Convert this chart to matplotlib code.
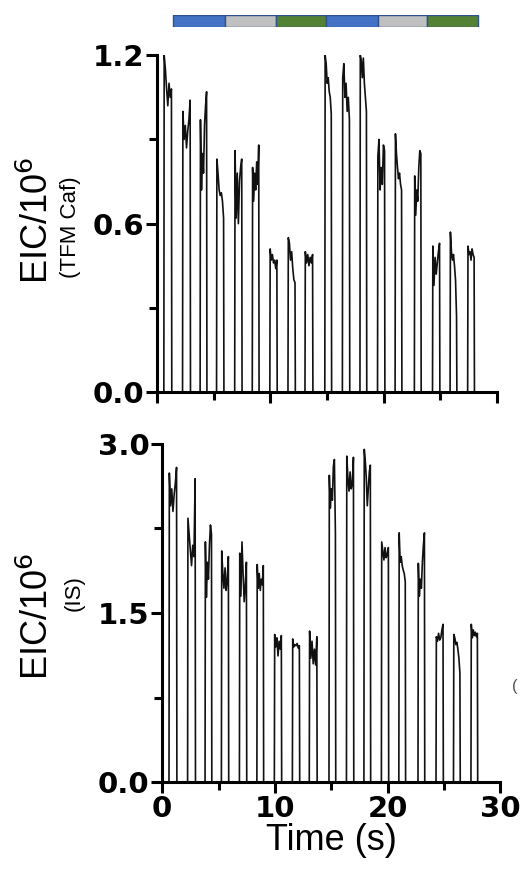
import numpy as np
import matplotlib
matplotlib.use("Agg")
import matplotlib.pyplot as plt
from matplotlib.ticker import MultipleLocator, FormatStrFormatter

plt.rcParams['font.family'] = ['Liberation Sans', 'DejaVu Sans']

# pulse timing (s), shared by both traces
peak_start = [0.60, 2.25, 3.80, 5.25, 6.85, 8.40, 9.95, 11.55, 13.05,
              14.80, 16.35, 17.90, 19.45, 21.00, 22.70, 24.30, 25.85, 27.40]
peak_end = [1.30, 2.95, 4.40, 5.90, 7.50, 9.00, 10.60, 12.20, 13.75,
            15.40, 17.00, 18.50, 20.10, 21.60, 23.30, 24.95, 26.45, 28.00]

# plateau readings for each pulse, EIC/10^6 (TFM Caf)
tfm_tops = [
    [1.20, 1.15, 1.08, 1.02, 1.10, 1.05, 1.08],
    [1.00, 0.90, 0.95, 0.87, 0.93, 0.97, 1.04],
    [0.97, 0.72, 0.85, 0.78, 0.95, 1.02, 1.07],
    [0.83, 0.78, 0.72, 0.70, 0.71, 0.68, 0.62],
    [0.86, 0.62, 0.78, 0.60, 0.75, 0.80, 0.83],
    [0.80, 0.68, 0.78, 0.72, 0.82, 0.74, 0.88],
    [0.51, 0.47, 0.49, 0.46, 0.47, 0.44, 0.47],
    [0.55, 0.53, 0.47, 0.50, 0.44, 0.40, 0.39],
    [0.50, 0.46, 0.49, 0.45, 0.48, 0.46, 0.49],
    [1.20, 1.17, 1.10, 1.12, 1.07, 1.05, 0.99],
    [1.12, 1.17, 1.05, 1.10, 1.00, 1.05, 0.97],
    [1.20, 1.18, 1.12, 1.19, 1.10, 1.05, 1.00],
    [0.84, 0.90, 0.72, 0.80, 0.74, 0.88, 0.86],
    [0.92, 0.85, 0.80, 0.76, 0.78, 0.74, 0.72],
    [0.77, 0.63, 0.72, 0.68, 0.80, 0.86, 0.85],
    [0.52, 0.38, 0.48, 0.42, 0.46, 0.50, 0.53],
    [0.57, 0.50, 0.47, 0.49, 0.45, 0.40, 0.27],
    [0.52, 0.49, 0.50, 0.47, 0.51, 0.49, 0.48],
]

# plateau readings for each pulse, EIC/10^6 (IS)
is_tops = [
    [2.74, 2.45, 2.60, 2.40, 2.55, 2.65, 2.79],
    [2.34, 2.20, 2.05, 1.92, 2.10, 2.00, 2.69],
    [2.13, 1.64, 1.95, 1.80, 2.10, 2.28, 2.20],
    [2.05, 1.85, 1.72, 1.90, 1.70, 1.80, 2.00],
    [2.03, 1.65, 2.13, 1.85, 1.60, 1.75, 1.95],
    [1.93, 1.72, 1.85, 1.70, 1.80, 1.75, 1.92],
    [1.31, 1.20, 1.28, 1.12, 1.25, 1.18, 1.30],
    [1.27, 1.20, 1.22, 1.21, 1.23, 1.19, 1.21],
    [1.34, 1.10, 1.25, 1.05, 1.18, 1.04, 1.29],
    [2.72, 2.43, 2.60, 2.50, 2.80, 2.86, 2.20],
    [2.89, 2.70, 2.58, 2.75, 2.60, 2.65, 2.88],
    [2.95, 2.85, 2.70, 2.45, 2.60, 2.75, 2.81],
    [2.13, 2.05, 1.97, 2.08, 1.99, 2.02, 2.08],
    [2.21, 1.95, 2.00, 1.92, 1.88, 1.85, 1.78],
    [1.94, 1.65, 1.80, 1.72, 1.95, 2.10, 2.21],
    [1.29, 1.25, 1.32, 1.26, 1.28, 1.35, 1.40],
    [1.31, 1.28, 1.22, 1.24, 1.18, 1.10, 0.97],
    [1.40, 1.28, 1.35, 1.30, 1.33, 1.29, 1.32],
]

# condition bar above the plot
bar_starts = [1.4, 6.0, 10.5, 14.9, 19.5, 23.8]
bar_ends = [6.0, 10.5, 14.9, 19.5, 23.8, 28.3]
bar_colors = ['#4472C4', '#C0C0C0', '#548235', '#4472C4', '#C0C0C0', '#548235']


def build_trace(starts, ends, tops):
    xs, ys = [0.0], [0.0]
    for s, e, t in zip(starts, ends, tops):
        px = np.linspace(s + 0.03, e - 0.03, len(t))
        xs += [s] + list(px) + [e]
        ys += [0.0] + list(t) + [0.0]
    xs.append(30.0)
    ys.append(0.0)
    return xs, ys


def style_axes(ax, ymax, ystep, show_xlabels):
    ax.set_xlim(0, 30)
    ax.set_ylim(0, ymax)
    ax.xaxis.set_major_locator(MultipleLocator(10))
    ax.xaxis.set_minor_locator(MultipleLocator(5))
    ax.yaxis.set_major_locator(MultipleLocator(ystep))
    ax.yaxis.set_minor_locator(MultipleLocator(ystep / 2))
    ax.yaxis.set_major_formatter(FormatStrFormatter('%.1f'))
    for side in ['top', 'right']:
        ax.spines[side].set_visible(False)
    for side in ['left', 'bottom']:
        ax.spines[side].set_linewidth(2.2)
    ax.tick_params(which='major', length=8, width=2.2, labelsize=21, pad=1)
    ax.tick_params(which='minor', length=6, width=2.2)
    for lab in ax.get_yticklabels() + ax.get_xticklabels():
        lab.set_fontweight('bold')
        lab.set_family('DejaVu Sans')
    if not show_xlabels:
        ax.tick_params(axis='x', labelbottom=False)


fig = plt.figure(figsize=(5.2, 8.91), dpi=100)

ax1 = fig.add_axes([0.302, 0.560, 0.654, 0.378])
ax2 = fig.add_axes([0.312, 0.122, 0.650, 0.380])

x1, y1 = build_trace(peak_start, peak_end, tfm_tops)
x2, y2 = build_trace(peak_start, peak_end, is_tops)
ax1.plot(x1, y1, color='#111111', lw=1.2)
ax2.plot(x2, y2, color='#111111', lw=1.2)

style_axes(ax1, 1.2, 0.6, False)
style_axes(ax2, 3.0, 1.5, True)
ax2.set_xlabel('Time (s)', fontsize=26, labelpad=0)

# y labels: main + sub line
ax1.text(-0.35, 0.51, 'EIC/10$^6$', rotation=90, fontsize=26,
         transform=ax1.transAxes, ha='center', va='center')
ax1.text(-0.255, 0.49, '(TFM Caf)', rotation=90, fontsize=16,
         transform=ax1.transAxes, ha='center', va='center')
ax2.text(-0.367, 0.49, 'EIC/10$^6$', rotation=90, fontsize=26,
         transform=ax2.transAxes, ha='center', va='center')
ax2.text(-0.262, 0.56, '(IS)', rotation=90, fontsize=16,
         transform=ax2.transAxes, ha='center', va='center')

# condition bar
axb = fig.add_axes([0.302, 0.970, 0.654, 0.013], sharex=ax1)
axb.broken_barh([(s, e - s) for s, e in zip(bar_starts, bar_ends)], (0, 1),
                facecolors=bar_colors, edgecolor='#2F528F', linewidth=1.0)
axb.set_ylim(0, 1)
axb.axis('off')
axb.set_xlim(0, 30)

fig.text(0.985, 1 - 687 / 891, '(', fontsize=12, color='#555555',
         ha='left', va='center')

fig.savefig('out.png', dpi=100)
